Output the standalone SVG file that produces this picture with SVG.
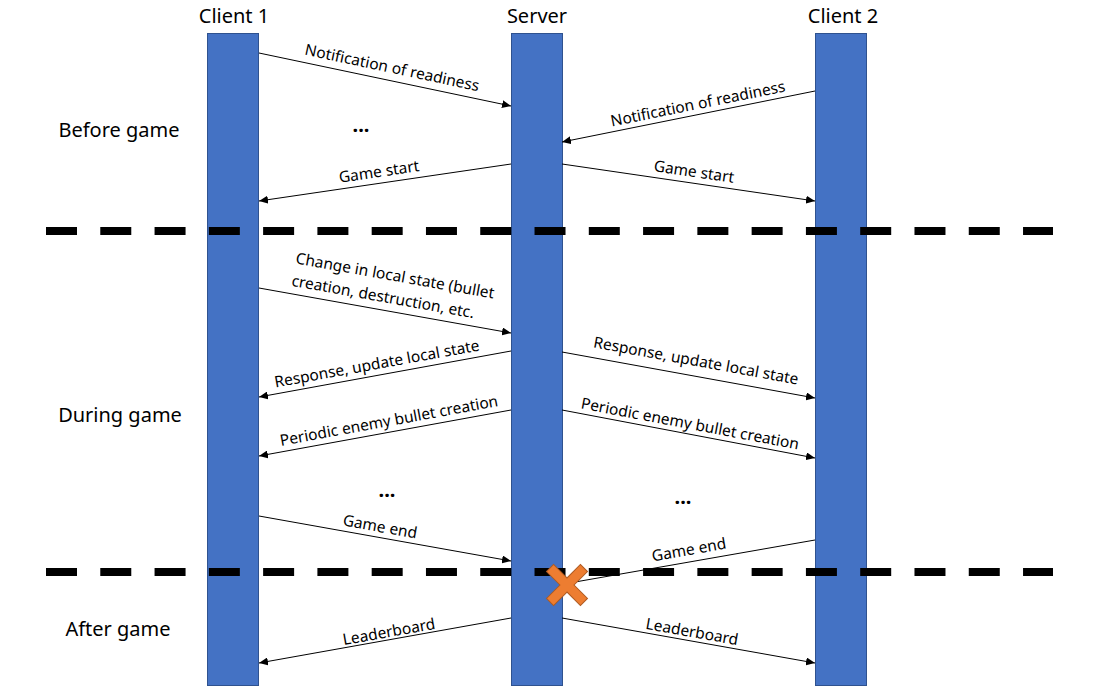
<svg xmlns="http://www.w3.org/2000/svg" width="1118" height="688" viewBox="0 0 1118 688">
<style>
.bar{fill:#4472C4;stroke:#2F528F;stroke-width:1}
.hdr{font-family:"Noto Sans","Open Sans",sans-serif;font-size:20px;fill:#000;text-anchor:middle}
.lbl{font-family:"Noto Sans","Open Sans",sans-serif;font-size:15.5px;fill:#000;text-anchor:middle}
.dots{font-family:"Noto Sans","Open Sans",sans-serif;font-size:20px;font-weight:bold;fill:#000;text-anchor:middle}
.msg{stroke:#000;stroke-width:1;fill:none}
.arr{marker-end:url(#ah)}
.sep{stroke:#000;stroke-width:8;stroke-dasharray:31 23.28;fill:none}
</style>
<defs>
<marker id="ah" markerUnits="userSpaceOnUse" markerWidth="10" markerHeight="8" refX="9" refY="4" orient="auto">
<path d="M0,0 L9,4 L0,8 Z" fill="#000"/>
</marker>
</defs>
<rect width="1118" height="688" fill="#fff"/>
<g id="client1">
<rect class="bar" x="207.5" y="33.5" width="51" height="652"/>
<text class="hdr" x="234" y="23">Client 1</text>
</g>
<g id="server">
<rect class="bar" x="511.5" y="33.5" width="51" height="652"/>
<text class="hdr" x="537" y="23">Server</text>
</g>
<g id="client2">
<rect class="bar" x="815.5" y="33.5" width="51" height="652"/>
<text class="hdr" x="843" y="23">Client 2</text>
</g>
<g id="phases">
<text class="hdr" x="119" y="137">Before game</text>
<text class="hdr" x="120" y="422">During game</text>
<text class="hdr" x="118" y="636">After game</text>
<text class="dots" x="361" y="132">...</text>
<text class="dots" x="387" y="497">...</text>
<text class="dots" x="683" y="504">...</text>
</g>
<g id="connectors">
<line class="msg arr" x1="259" y1="53" x2="511" y2="106"/>
<line class="msg arr" x1="815" y1="91" x2="562" y2="142"/>
<line class="msg arr" x1="511" y1="164" x2="259" y2="201"/>
<line class="msg arr" x1="562" y1="164" x2="815" y2="201"/>
<line class="msg arr" x1="259" y1="288" x2="511" y2="333"/>
<line class="msg arr" x1="511" y1="351" x2="259" y2="397"/>
<line class="msg arr" x1="562" y1="352" x2="815" y2="398"/>
<line class="msg arr" x1="511" y1="410" x2="259" y2="456"/>
<line class="msg arr" x1="562" y1="410" x2="815" y2="458"/>
<line class="msg arr" x1="259" y1="516" x2="511" y2="561"/>
<line class="msg" x1="815" y1="540" x2="575" y2="582"/>
<line class="msg arr" x1="511" y1="618" x2="259" y2="663"/>
<line class="msg arr" x1="562" y1="618" x2="815" y2="663"/>
<text class="lbl" transform="translate(392,68) rotate(11.9)" y="5">Notification of readiness</text>
<text class="lbl" transform="translate(698,104) rotate(-11.4)" y="5">Notification of readiness</text>
<text class="lbl" transform="translate(379,172) rotate(-8.4)" y="5">Game start</text>
<text class="lbl" transform="translate(694,172) rotate(8.4)" y="5">Game start</text>
<text class="lbl" transform="translate(395,276) rotate(10.1)" y="5">Change in local state (bullet</text>
<text class="lbl" transform="translate(383,297) rotate(10.1)" y="5">creation, destruction, etc.</text>
<text class="lbl" transform="translate(377,364) rotate(-10.3)" y="5">Response, update local state</text>
<text class="lbl" transform="translate(696,361) rotate(10.3)" y="5">Response, update local state</text>
<text class="lbl" transform="translate(389,421) rotate(-10.4)" y="5">Periodic enemy bullet creation</text>
<text class="lbl" transform="translate(690,424) rotate(10.7)" y="5">Periodic enemy bullet creation</text>
<text class="lbl" transform="translate(380,527) rotate(10.1)" y="5">Game end</text>
<text class="lbl" transform="translate(689,550) rotate(-9.9)" y="5">Game end</text>
<text class="lbl" transform="translate(389,632) rotate(-10.1)" y="5">Leaderboard</text>
<text class="lbl" transform="translate(692,632) rotate(10.1)" y="5">Leaderboard</text>
</g>
<g id="separators">
<line class="sep" x1="46" y1="231" x2="1053" y2="231"/>
<line class="sep" x1="46" y1="572" x2="1053" y2="572"/>
</g>
<g id="terminate">
<path transform="translate(567,585) rotate(45)" d="M5,5 L5,24 L-5,24 L-5,5 L-24,5 L-24,-5 L-5,-5 L-5,-24 L5,-24 L5,-5 L24,-5 L24,5 Z" fill="#ED7D31" stroke="#AE5A21" stroke-width="1"/>
</g>
</svg>
